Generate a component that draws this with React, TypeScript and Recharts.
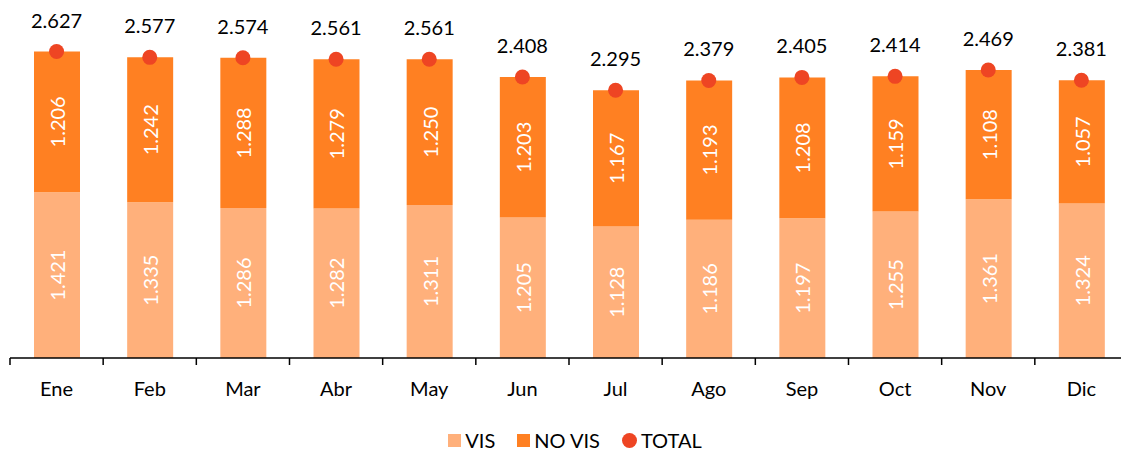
import React from 'react';
import { ComposedChart, Bar, Line, XAxis, YAxis, Legend, LabelList } from 'recharts';

const months = ['Ene', 'Feb', 'Mar', 'Abr', 'May', 'Jun', 'Jul', 'Ago', 'Sep', 'Oct', 'Nov', 'Dic'];
const vis = [1421, 1335, 1286, 1282, 1311, 1205, 1128, 1186, 1197, 1255, 1361, 1324];
const noVis = [1206, 1242, 1288, 1279, 1250, 1203, 1167, 1193, 1208, 1159, 1108, 1057];
const total = [2627, 2577, 2574, 2561, 2561, 2408, 2295, 2379, 2405, 2414, 2469, 2381];

const seriesNames = ['VIS', 'NO VIS', 'TOTAL'];
const seriesColors = ['#FFB07B', '#FF8022', '#EE4523'];

const data = months.map((m, i) => ({ name: m, vis: vis[i], noVis: noVis[i], total: total[i] }));

const FONT = 'Lato, "Open Sans", sans-serif';
const fmt = (v: number) => {
  const s = String(Math.round(v));
  return s.length > 3 ? s.slice(0, s.length - 3) + '.' + s.slice(s.length - 3) : s;
};

const BAND = 93.18;

const Tick = (props: any) => {
  const { x, y, payload, index } = props;
  return (
    <g>
      <line x1={x - BAND / 2} x2={x - BAND / 2} y1={y} y2={y + 7} stroke="#000" strokeWidth={1.5} />
      {index === months.length - 1 && (
        <line x1={x + BAND / 2} x2={x + BAND / 2} y1={y} y2={y + 7} stroke="#000" strokeWidth={1.5} />
      )}
      <text x={x} y={y + 30} textAnchor="middle" dominantBaseline="central" fill="#000" fontSize={20} fontFamily={FONT}>
        {payload.value}
      </text>
    </g>
  );
};

const InnerLabel = (props: any) => {
  const { x, y, width, height, value } = props;
  const cx = x + width / 2;
  const cy = y + height / 2;
  return (
    <text
      x={cx}
      y={cy}
      transform={`rotate(-90 ${cx} ${cy})`}
      textAnchor="middle"
      dominantBaseline="central"
      fill="#fff"
      fontSize={20}
      fontFamily={FONT}
    >
      {fmt(value)}
    </text>
  );
};

const TopLabel = (props: any) => {
  const { x, y, value } = props;
  return (
    <text x={x} y={y - 32} textAnchor="middle" dominantBaseline="central" fill="#000" fontSize={20} fontFamily={FONT}>
      {fmt(value)}
    </text>
  );
};

const LegendContent = () => (
  <div style={{ display: 'flex', justifyContent: 'center', alignItems: 'center', fontFamily: FONT, fontSize: 20, color: '#000' }}>
    {seriesNames.map((n, i) => (
      <div key={n} style={{ display: 'flex', alignItems: 'center', marginRight: i < 2 ? 22 : 0 }}>
        <span
          style={{
            display: 'inline-block',
            width: i === 2 ? 15 : 13,
            height: i === 2 ? 15 : 13,
            borderRadius: i === 2 ? '50%' : 0,
            background: seriesColors[i],
            marginRight: 4,
          }}
        />
        <span>{n}</span>
      </div>
    ))}
  </div>
);

export default function App() {
  return (
    <div style={{ position: 'absolute', left: 0, top: 0, width: 1121, height: 453, overflow: 'hidden', background: '#fff' }}>
      <ComposedChart
        width={1140}
        height={453}
        data={data}
        margin={{ top: 8, right: 12, bottom: 55, left: 10 }}
        barCategoryGap={0}
      >
        <XAxis
          dataKey="name"
          height={40}
          tickLine={false}
          tickSize={0}
          tickMargin={0}
          axisLine={{ stroke: '#000', strokeWidth: 1.5 }}
          tick={<Tick />}
          interval={0}
        />
        <YAxis hide domain={[0, 3000]} />
        <Legend
          verticalAlign="middle"
          align="center"
          wrapperStyle={{ top: 428, left: 0, width: 1150 }}
          content={<LegendContent />}
        />
        <Bar dataKey="vis" name="VIS" stackId="a" fill={seriesColors[0]} barSize={46} isAnimationActive={false}>
          <LabelList dataKey="vis" content={<InnerLabel />} />
        </Bar>
        <Bar dataKey="noVis" name="NO VIS" stackId="a" fill={seriesColors[1]} barSize={46} isAnimationActive={false}>
          <LabelList dataKey="noVis" content={<InnerLabel />} />
        </Bar>
        <Line
          dataKey="total"
          name="TOTAL"
          stroke="none"
          strokeWidth={0}
          dot={{ r: 7.5, fill: seriesColors[2], stroke: 'none' }}
          activeDot={false}
          isAnimationActive={false}
        >
          <LabelList dataKey="total" content={<TopLabel />} />
        </Line>
      </ComposedChart>
    </div>
  );
}
